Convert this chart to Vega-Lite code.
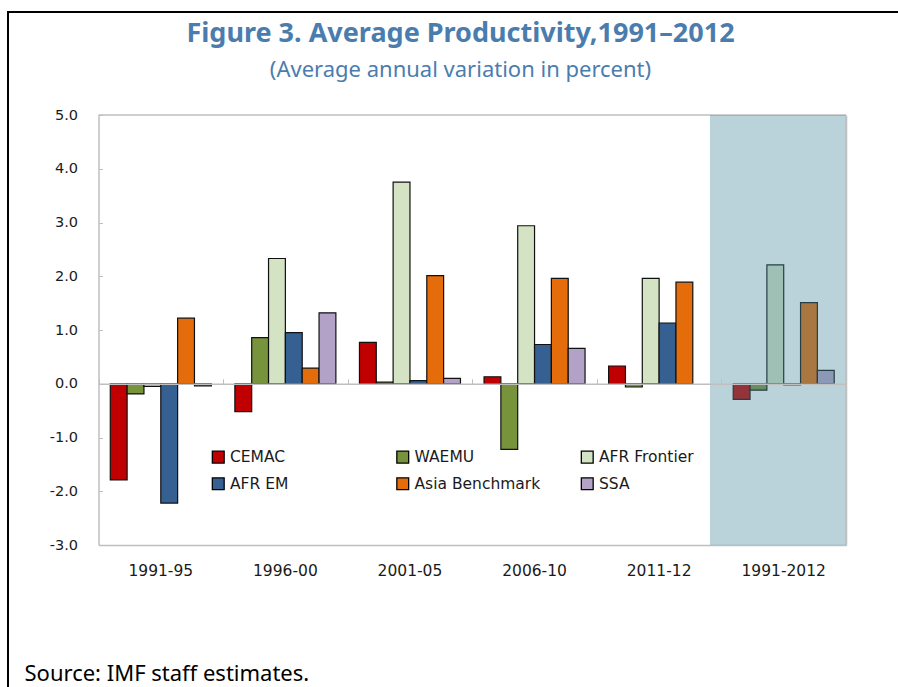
{
  "$schema": "https://vega.github.io/schema/vega-lite/v6.json",
  "width": 893,
  "height": 678,
  "autosize": {"type": "none"},
  "padding": {"left": 8, "top": 12, "right": -3, "bottom": -3},
  "background": "white",
  "config": {
    "view": {"stroke": "#000000", "strokeWidth": 2},
    "font": "DejaVu Sans"
  },
  "title": {
    "text": "Figure 3. Average Productivity,1991–2012",
    "subtitle": "(Average annual variation in percent)",
    "anchor": "middle",
    "dx": 6,
    "offset": -69.5,
    "font": "Noto Sans",
    "fontSize": 27,
    "fontWeight": "bold",
    "color": "#4A7DAE",
    "subtitleFont": "Noto Sans",
    "subtitleFontSize": 22,
    "subtitleColor": "#4A7DAE",
    "subtitlePadding": 11.5
  },
  "layer": [
    {
      "data": {
        "values": [
          {"period": "1991-95", "series": "CEMAC", "value": -1.79},
          {"period": "1991-95", "series": "WAEMU", "value": -0.19},
          {"period": "1991-95", "series": "AFR Frontier", "value": -0.05},
          {"period": "1991-95", "series": "AFR EM", "value": -2.22},
          {"period": "1991-95", "series": "Asia Benchmark", "value": 1.22},
          {"period": "1991-95", "series": "SSA", "value": -0.04},
          {"period": "1996-00", "series": "CEMAC", "value": -0.52},
          {"period": "1996-00", "series": "WAEMU", "value": 0.86},
          {"period": "1996-00", "series": "AFR Frontier", "value": 2.33},
          {"period": "1996-00", "series": "AFR EM", "value": 0.95},
          {"period": "1996-00", "series": "Asia Benchmark", "value": 0.29},
          {"period": "1996-00", "series": "SSA", "value": 1.32},
          {"period": "2001-05", "series": "CEMAC", "value": 0.77},
          {"period": "2001-05", "series": "WAEMU", "value": 0.03},
          {"period": "2001-05", "series": "AFR Frontier", "value": 3.75},
          {"period": "2001-05", "series": "AFR EM", "value": 0.06},
          {"period": "2001-05", "series": "Asia Benchmark", "value": 2.01},
          {"period": "2001-05", "series": "SSA", "value": 0.1},
          {"period": "2006-10", "series": "CEMAC", "value": 0.13},
          {"period": "2006-10", "series": "WAEMU", "value": -1.22},
          {"period": "2006-10", "series": "AFR Frontier", "value": 2.94},
          {"period": "2006-10", "series": "AFR EM", "value": 0.73},
          {"period": "2006-10", "series": "Asia Benchmark", "value": 1.96},
          {"period": "2006-10", "series": "SSA", "value": 0.66},
          {"period": "2011-12", "series": "CEMAC", "value": 0.33},
          {"period": "2011-12", "series": "WAEMU", "value": -0.06},
          {"period": "2011-12", "series": "AFR Frontier", "value": 1.96},
          {"period": "2011-12", "series": "AFR EM", "value": 1.13},
          {"period": "2011-12", "series": "Asia Benchmark", "value": 1.89},
          {"period": "1991-2012", "series": "CEMAC", "value": -0.29},
          {"period": "1991-2012", "series": "WAEMU", "value": -0.12},
          {"period": "1991-2012", "series": "AFR Frontier", "value": 2.21},
          {"period": "1991-2012", "series": "AFR EM", "value": -0.02},
          {"period": "1991-2012", "series": "Asia Benchmark", "value": 1.51},
          {"period": "1991-2012", "series": "SSA", "value": 0.25}
        ]
      },
      "mark": {"type": "bar", "stroke": "#111111", "strokeWidth": 1.2},
      "encoding": {
        "x": {
          "field": "period",
          "type": "nominal",
          "scale": {
            "domain": ["1991-95", "1996-00", "2001-05", "2006-10", "2011-12", "1991-2012"],
            "range": [90.5, 838],
            "paddingInner": 0,
            "paddingOuter": 0
          },
          "axis": {
            "orient": "bottom",
            "offset": -145,
            "domainColor": "#BFBFBF",
            "domainWidth": 1.5,
            "ticks": false,
            "tickSize": 0,
            "labelAngle": 0,
            "labelFontSize": 15.5,
            "labelColor": "#1a1a1a",
            "labelBaseline": "alphabetic",
            "labelPadding": 30,
            "title": "Source: IMF staff estimates.",
            "titleX": 16,
            "titleY": 135,
            "titleAlign": "left",
            "titleBaseline": "alphabetic",
            "titleFont": "Noto Sans",
            "titleFontSize": 22,
            "titleFontWeight": "normal",
            "titleColor": "#000000"
          }
        },
        "xOffset": {
          "field": "series",
          "type": "nominal",
          "scale": {
            "domain": ["CEMAC", "WAEMU", "AFR Frontier", "AFR EM", "Asia Benchmark", "SSA"],
            "paddingInner": 0,
            "paddingOuter": 0.7
          }
        },
        "y": {
          "field": "value",
          "type": "quantitative",
          "scale": {"domain": [-3, 5], "range": [533, 103], "nice": false, "zero": false},
          "axis": {
            "orient": "left",
            "offset": -90.5,
            "values": [-3, -2, -1, 0, 1, 2, 3, 4, 5],
            "format": ".1f",
            "labelExpr": "replace(datum.label, '−', '-')",
            "grid": false,
            "domainColor": "#BFBFBF",
            "domainWidth": 1.5,
            "tickColor": "#BFBFBF",
            "tickSize": -4,
            "labelPadding": 25,
            "labelFontSize": 14.5,
            "labelColor": "#1a1a1a",
            "title": null
          }
        },
        "color": {
          "field": "series",
          "type": "nominal",
          "scale": {
            "domain": ["CEMAC", "WAEMU", "AFR Frontier", "AFR EM", "Asia Benchmark", "SSA"],
            "range": ["#C00000", "#77933C", "#D3E3C3", "#376092", "#E46C0A", "#B3A2C7"]
          },
          "legend": {
            "orient": "none",
            "legendX": 202.5,
            "legendY": 437,
            "direction": "horizontal",
            "columns": 3,
            "gridAlign": "all",
            "columnPadding": 37.5,
            "rowPadding": 9,
            "padding": 0,
            "title": null,
            "symbolType": "square",
            "symbolSize": 140,
            "symbolStrokeColor": "#000000",
            "symbolStrokeWidth": 1.3,
            "symbolOpacity": 1,
            "labelFontSize": 15.5,
            "labelColor": "#1a1a1a",
            "labelOffset": 4,
            "labelLimit": 300
          }
        }
      }
    },
    {
      "data": {"values": [{}]},
      "mark": {"type": "rule", "color": "#BFBFBF", "strokeWidth": 1.5},
      "encoding": {
        "x": {"datum": "1991-95", "bandPosition": 0, "axis": null},
        "x2": {"datum": "1991-2012", "bandPosition": 1},
        "y": {"datum": 5, "axis": null}
      }
    },
    {
      "data": {"values": [{}]},
      "mark": {"type": "rect", "color": "#4A8A9C", "opacity": 0.38},
      "encoding": {
        "x": {
          "datum": "1991-2012",
          "bandPosition": -0.092,
          "axis": {
            "orient": "bottom",
            "offset": -306.25,
            "labels": false,
            "domainColor": "#BFBFBF",
            "domainWidth": 1.5,
            "tickColor": "#BFBFBF",
            "tickBand": "extent",
            "tickSize": -5,
            "title": null
          }
        },
        "x2": {"datum": "1991-2012", "bandPosition": 1},
        "y": {
          "datum": 5,
          "axis": {
            "orient": "right",
            "offset": -55,
            "labels": false,
            "ticks": false,
            "grid": false,
            "domainColor": "#BFBFBF",
            "domainWidth": 1.5,
            "title": null
          }
        },
        "y2": {"datum": -3}
      }
    }
  ],
  "resolve": {"axis": {"x": "independent", "y": "independent"}}
}
